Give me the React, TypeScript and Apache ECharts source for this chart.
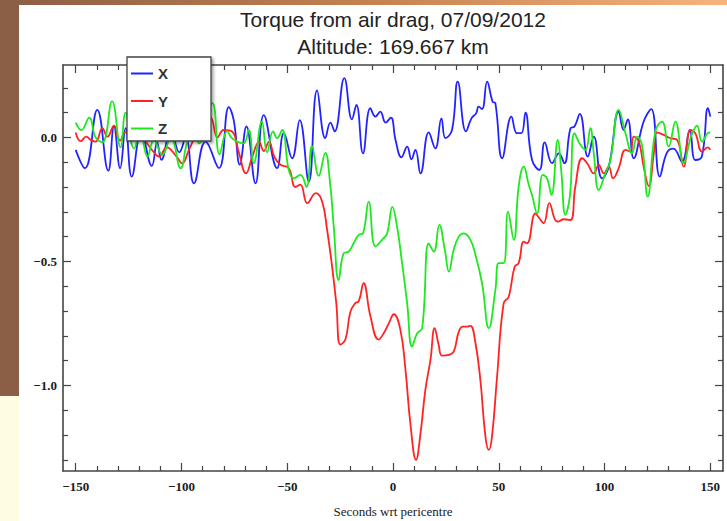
import React, { useEffect, useRef } from "react";
import * as echarts from "echarts";

// ---- Data (seconds wrt pericentre, torque) ----
const xTime = [-150, -145.6, -139.8, -134.6, -131.9, -129, -126.4, -123.5, -119, -114, -111.5, -109.5, -105, -101, -98, -94.1, -88.6, -82.3, -77.6, -75.3, -72.4, -69.3, -65, -61.1, -54.8, -51.6, -47.7, -44.1, -39.8, -35.9, -32, -29.6, -27.6, -23, -19.4, -17.3, -14.2, -10.7, -8.3, -6, -3.5, -1, 1.2, 4, 6.7, 8.7, 10.6, 13, 16.9, 20, 22.9, 24.8, 27.9, 30.6, 34.5, 37.1, 39.3, 40.5, 42.1, 44.5, 47.1, 48.4, 51.6, 56, 58.6, 60.7, 62.6, 65.7, 69.2, 71.7, 75.2, 78.4, 81, 83.9, 85.8, 88.3, 92.1, 94.9, 98.8, 102, 106.7, 109, 111, 113.8, 118.5, 122.1, 126.1, 129.5, 132.5, 136.6, 140.3, 142.9, 146, 148.9, 150];
const xValues = [-0.05, -0.124, 0.111, -0.134, 0.044, -0.124, 0.037, -0.158, 0.02, -0.115, -0.02, -0.09, 0.03, -0.06, 0.0, -0.185, -0.017, -0.124, 0.122, 0.07, -0.11, 0.044, -0.185, 0.09, -0.124, 0.017, -0.084, 0.07, -0.178, 0.19, -0.003, 0.06, 0.024, 0.239, 0.073, 0.131, -0.064, 0.118, 0.084, 0.104, 0.06, 0.08, -0.01, -0.08, -0.037, -0.088, -0.05, -0.145, 0.02, -0.044, 0.077, -0.003, 0.03, 0.225, 0.024, 0.077, 0.097, 0.124, 0.114, 0.225, 0.144, 0.138, -0.084, 0.084, 0.017, 0.017, 0.1, -0.09, -0.131, -0.02, -0.104, -0.064, -0.104, 0.037, 0.044, 0.095, -0.077, 0.003, -0.165, -0.118, 0.104, 0.03, 0.073, -0.084, 0.064, 0.114, -0.158, -0.061, -0.045, -0.097, 0.03, -0.091, -0.077, 0.118, 0.084];

const yTime = [-150, -147.6, -145, -142.9, -140.6, -137.4, -135, -131.9, -129, -126.4, -120, -113.8, -110.6, -107, -102.5, -99.6, -96.5, -92.5, -89.5, -86.2, -83, -80, -76.1, -72.9, -69.5, -66.4, -63.3, -61.1, -58.7, -56, -53.2, -49.3, -46.1, -43.8, -40.5, -36.5, -33.5, -31.2, -28.8, -26.8, -24.9, -22.5, -20.2, -18, -16.2, -13.9, -10.7, -6.8, -4.4, -2, 0.4, 3.5, 5.9, 8.2, 10.9, 13, 15.3, 17.7, 19.7, 21.6, 23.2, 26.4, 28.7, 31.1, 33, 35, 36.6, 39, 41.3, 43.7, 45.3, 46.8, 49.2, 52.3, 54.7, 57.5, 59.4, 61.8, 63.4, 67.3, 69.2, 71.2, 73.9, 76.5, 78, 80.7, 83.9, 86.2, 89.4, 91.8, 94.9, 97.3, 99.6, 102, 104, 106.7, 109.9, 112.2, 113.8, 116.2, 118.5, 120.9, 123.3, 124.8, 128, 131.1, 134.3, 137.4, 140.6, 142.9, 146.1, 148.8, 150];
const yValues = [0.02, -0.015, 0.003, -0.01, -0.017, 0.037, 0.003, 0.047, -0.013, 0.02, 0.01, -0.052, -0.077, -0.04, -0.075, -0.105, -0.05, 0.017, 0.04, 0.08, 0.0, 0.03, 0.024, -0.06, -0.145, -0.075, -0.018, -0.055, -0.018, -0.08, -0.11, -0.124, -0.2, -0.19, -0.265, -0.225, -0.258, -0.37, -0.52, -0.67, -0.835, -0.815, -0.705, -0.67, -0.66, -0.588, -0.72, -0.815, -0.79, -0.75, -0.713, -0.776, -0.937, -1.152, -1.3, -1.193, -1.018, -0.897, -0.769, -0.837, -0.88, -0.877, -0.864, -0.783, -0.763, -0.763, -0.76, -0.83, -0.978, -1.206, -1.26, -1.206, -0.964, -0.669, -0.642, -0.521, -0.507, -0.42, -0.427, -0.306, -0.326, -0.346, -0.265, -0.33, -0.339, -0.33, -0.333, -0.198, -0.084, -0.104, -0.145, -0.111, -0.145, -0.118, -0.165, -0.124, -0.05, -0.057, 0.003, -0.017, -0.118, -0.196, -0.064, 0.02, 0.01, -0.003, -0.01, -0.118, 0.03, 0.017, -0.057, -0.04, -0.05];

const zTime = [-150, -147.3, -143.6, -140.6, -137.4, -132.8, -128.8, -126.4, -122.4, -119.5, -116.1, -113, -109.1, -105, -100.4, -97.2, -94.5, -91.7, -85.4, -82, -78.4, -76.5, -73.7, -70.6, -68.2, -65.8, -62, -59.5, -56.7, -54.8, -52.4, -49.3, -46.9, -43.8, -40.9, -38.3, -35.1, -32, -29.9, -28, -25.7, -23.3, -20.9, -18.6, -16.2, -14.2, -11.5, -8.3, -5.2, -2.8, -0.3, 1.9, 4.3, 6.7, 9, 11.4, 13.8, 16.9, 19.3, 21.9, 24.5, 26.4, 28.7, 31.1, 33.4, 36.6, 39, 42.1, 45.3, 48.4, 50, 52.3, 54.4, 57.1, 59.4, 61.8, 64.2, 65.7, 68.1, 70.8, 72.8, 74.9, 77.9, 79.5, 81.5, 83.6, 85.8, 88.6, 91, 93.3, 94.9, 97.3, 100.4, 102.8, 106.7, 109.9, 113, 115.4, 117.7, 120.4, 124, 127.2, 130.3, 133.5, 137.4, 140.9, 143.7, 146.1, 148.8, 150];
const zValues = [0.06, 0.03, 0.08, 0.0, -0.02, 0.145, -0.04, 0.1, -0.044, 0.02, -0.077, -0.01, -0.07, 0.0, -0.124, -0.017, 0.02, -0.024, 0.138, -0.068, 0.025, 0.0, -0.017, -0.024, 0.03, -0.104, 0.064, -0.06, 0.024, -0.003, 0.03, -0.131, -0.165, -0.151, -0.2, -0.035, -0.155, -0.062, -0.17, -0.36, -0.575, -0.467, -0.46, -0.427, -0.393, -0.387, -0.259, -0.44, -0.413, -0.387, -0.28, -0.359, -0.507, -0.669, -0.843, -0.79, -0.769, -0.427, -0.46, -0.353, -0.453, -0.541, -0.453, -0.4, -0.387, -0.413, -0.474, -0.588, -0.769, -0.615, -0.507, -0.507, -0.299, -0.413, -0.198, -0.118, -0.192, -0.232, -0.306, -0.151, -0.165, -0.232, -0.01, -0.131, -0.312, -0.238, 0.017, -0.03, -0.05, 0.037, -0.064, -0.212, -0.145, -0.091, 0.111, 0.017, -0.064, 0.003, -0.03, -0.238, 0.024, 0.064, -0.037, 0.064, -0.104, 0.003, 0.047, -0.017, 0.017, 0.02];

const seriesNames = ["X", "Y", "Z"];
const xMajorTicks = [-150, -100, -50, 0, 50, 100, 150];
const xMinorTicks = [-140, -130, -120, -110, -90, -80, -70, -60, -40, -30, -20, -10, 10, 20, 30, 40, 60, 70, 80, 90, 110, 120, 130, 140];
const yMajorTicks = [0, -0.5, -1.0];
const yMinorTicks = [0.2, 0.1, -0.1, -0.2, -0.3, -0.4, -0.6, -0.7, -0.8, -0.9, -1.1, -1.2, -1.3];
const titleLines = ["Torque from air drag, 07/09/2012", "Altitude: 169.667 km"];
const xAxisTitle = "Seconds wrt pericentre";

const pairs = (t: number[], v: number[]) => t.map((ti, i) => [ti, v[i]]);

const FRAME = "#444444";
const GRID = { left: 63, right: 4, top: 65, bottom: 50 };

export default function App() {
  const ref = useRef<HTMLDivElement>(null);
  useEffect(() => {
    if (!ref.current) return;
    const chart = echarts.init(ref.current, undefined, { renderer: "svg" });
    const minus = (s: string) => s.replace("-", "\u2212");
    const xBase = {
      type: "value",
      min: -156,
      max: 156,
      gridIndex: 0,
      splitLine: { show: false },
      axisLine: { show: false, onZero: false },
      axisLabel: { show: false },
    };
    const yBase = {
      type: "value",
      min: -1.345,
      max: 0.292,
      gridIndex: 0,
      splitLine: { show: false },
      axisLine: { show: false, onZero: false },
      axisLabel: { show: false },
    };
    const tick = (vals: number[], len: number) => ({
      show: true,
      inside: true,
      length: len,
      customValues: vals,
      lineStyle: { color: FRAME, width: 1.2 },
    });
    const labelFont = {
      fontFamily: "Liberation Serif",
      fontSize: 13,
      fontWeight: "bold",
      color: "#1a1a1a",
    };
    const option: any = {
      animation: false,
      backgroundColor: "#ffffff",
      grid: { ...GRID, containLabel: false, outerBoundsMode: "none" },
      xAxis: [
        {
          ...xBase,
          position: "bottom",
          axisLine: { show: true, onZero: false, lineStyle: { color: FRAME, width: 1.6 } },
          axisTick: tick(xMajorTicks, 8),
          axisLabel: {
            show: true,
            customValues: xMajorTicks,
            margin: 9,
            formatter: (v: number) => minus(String(v)),
            ...labelFont,
          },
          name: xAxisTitle,
          nameLocation: "middle",
          nameGap: 34,
          nameTextStyle: { fontFamily: "Liberation Serif", fontSize: 13, color: "#1a1a1a" },
        },
        { ...xBase, position: "bottom", axisTick: tick(xMinorTicks, 5) },
        {
          ...xBase,
          position: "top",
          axisLine: { show: true, onZero: false, lineStyle: { color: FRAME, width: 1.6 } },
          axisTick: tick(xMajorTicks, 8),
        },
        { ...xBase, position: "top", axisTick: tick(xMinorTicks, 5) },
      ],
      yAxis: [
        {
          ...yBase,
          position: "left",
          axisLine: { show: true, onZero: false, lineStyle: { color: FRAME, width: 1.6 } },
          axisTick: tick(yMajorTicks, 8),
          axisLabel: {
            show: true,
            customValues: yMajorTicks,
            margin: 6,
            formatter: (v: number) => minus(v.toFixed(1)),
            ...labelFont,
          },
        },
        { ...yBase, position: "left", axisTick: tick(yMinorTicks, 5) },
        {
          ...yBase,
          position: "right",
          axisLine: { show: true, onZero: false, lineStyle: { color: FRAME, width: 1.6 } },
          axisTick: tick(yMajorTicks, 8),
        },
        { ...yBase, position: "right", axisTick: tick(yMinorTicks, 5) },
      ],
      legend: {
        orient: "vertical",
        left: 131,
        top: 66,
        padding: 0,
        itemWidth: 22,
        itemHeight: 14,
        itemGap: 12.5,
        z: 110,
        icon: "path://M0,0H22V2H0Z",
        data: seriesNames,
        textStyle: { fontFamily: "Liberation Sans", fontWeight: "bold", fontSize: 15, color: "#333" },
      },
      graphic: [
        {
          type: "rect",
          z: 1,
          shape: { x: 0, y: 0, width: 727, height: 5 },
          style: {
            fill: new echarts.graphic.LinearGradient(0, 0, 1, 0, [
              { offset: 0, color: "#8b5d45" },
              { offset: 0.5, color: "#c4814f" },
              { offset: 1, color: "#f6b37c" },
            ]),
          },
        },
        { type: "rect", z: 1, shape: { x: 0, y: 0, width: 19, height: 396 }, style: { fill: "#8b5e46" } },
        { type: "rect", z: 1, shape: { x: 0, y: 396, width: 19, height: 125 }, style: { fill: "#fffde1" } },
        {
          type: "text",
          z: 5,
          style: {
            text: titleLines[0],
            x: 393,
            y: 19,
            textAlign: "center",
            textVerticalAlign: "middle",
            fontFamily: "Liberation Sans",
            fontSize: 21,
            fill: "#222",
          },
        },
        {
          type: "text",
          z: 5,
          style: {
            text: titleLines[1],
            x: 393,
            y: 46,
            textAlign: "center",
            textVerticalAlign: "middle",
            fontFamily: "Liberation Sans",
            fontSize: 21,
            fill: "#222",
          },
        },
        {
          type: "rect",
          z: 100,
          shape: { x: 127, y: 57, width: 84, height: 84 },
          style: {
            fill: "#ffffff",
            stroke: "#444",
            lineWidth: 1.3,
            shadowBlur: 3,
            shadowOffsetX: 2,
            shadowOffsetY: 2,
            shadowColor: "rgba(0,0,0,0.35)",
          },
        },
      ],
      series: [
        { name: "X", color: "#2323ff", data: pairs(xTime, xValues) },
        { name: "Y", color: "#ff2323", data: pairs(yTime, yValues) },
        { name: "Z", color: "#1ee81e", data: pairs(zTime, zValues) },
      ].map((s) => ({
        ...s,
        type: "line",
        xAxisIndex: 0,
        yAxisIndex: 0,
        smooth: 0.45,
        symbol: "none",
        showSymbol: false,
        lineStyle: { width: 1.8, color: s.color },
        itemStyle: { color: s.color },
      })),
    };
    chart.setOption(option);
    return () => chart.dispose();
  }, []);
  return <div ref={ref} style={{ position: "fixed", left: 0, top: 0, width: 727, height: 521 }} />;
}
